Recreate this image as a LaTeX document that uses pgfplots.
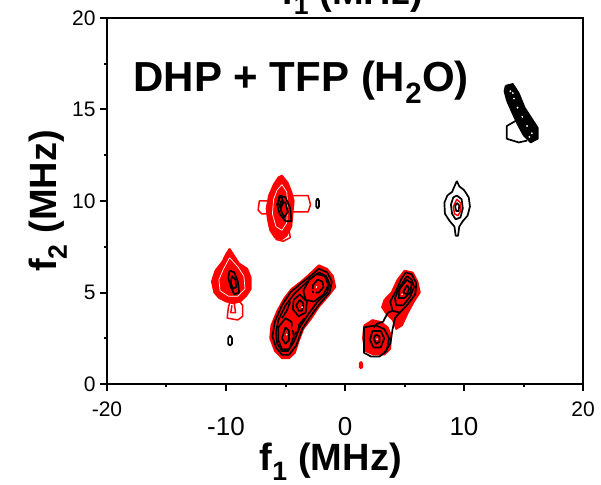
\documentclass[border=0pt]{standalone}
\usepackage{pgfplots}
\pgfplotsset{compat=1.18}
\usepackage{fontspec}
\setmainfont{Liberation Sans}

% contour styles
\tikzset{
  redfill/.style={draw=red, fill=red, line width=1.5bp, line join=round},
  redline/.style={draw=red, line width=1.5bp, line join=round},
  blkline/.style={draw=black, line width=1.7bp, line join=round},
  blkfill/.style={draw=black, fill=black, line width=1.6bp, line join=round},
  gap/.style={draw=white, line width=0.7bp, line join=round},
}
% inner x tick labels: larger and set lower than the end labels
\newcommand{\low}[1]{\raisebox{-16bp}[\height][\depth]{\fontsize{26bp}{30bp}\selectfont #1}}

\begin{document}
\begin{tikzpicture}
\begin{axis}[
  scale only axis,
  width=476bp, height=366bp,
  xmin=-20, xmax=20, ymin=0, ymax=20,
  axis line style={line width=2.4bp},
  clip=false,
  xtick={-20,-10,0,10,20},
  xticklabels={-20,\low{-10},\low{0},\low{10},20},
  ytick={0,5,10,15,20},
  yticklabels={0,5,10,15,20},
  minor x tick num=1, minor y tick num=1,
  tick pos=left,
  tick align=outside,
  major tick length=7bp, minor tick length=3bp,
  every tick/.style={line width=2bp, black},
  tick label style={font=\fontsize{21bp}{24bp}\selectfont},
  xticklabel style={yshift=-7bp},
  yticklabel style={xshift=-1bp},
]

% ---- red contours ----
% peak near (-5.5, 9.8)
\addplot[redfill] coordinates {(-5.3,11.4) (-4.8,11.0) (-4.5,10.5) (-4.3,10.0) (-4.4,9.3) (-4.5,8.6) (-4.9,8.1) (-5.3,7.9) (-5.9,8.0) (-6.3,8.4) (-6.5,9.0) (-6.6,9.6) (-6.4,10.3) (-6.0,10.9) (-5.6,11.3) (-5.3,11.4)};
\addplot[gap] coordinates {(-5.3,10.9) (-4.9,10.5) (-4.8,9.8) (-4.9,8.8) (-5.3,8.4) (-5.8,8.6) (-6.1,9.3) (-6.0,10.1) (-5.7,10.6) (-5.3,10.9)};
\addplot[redline] coordinates {(-4.5,10.3) (-3.1,10.3) (-2.9,9.8) (-3.1,9.4) (-4.4,9.4)};
\addplot[redline] coordinates {(-6.4,10.0) (-7.2,10.0) (-7.3,9.5) (-7.0,9.3) (-6.4,9.3)};
\addplot[redline] coordinates {(-5.6,8.3) (-5.8,7.9) (-5.2,7.8) (-4.6,8.0) (-4.7,8.4)};

% peak near (-9.5, 5.7)
\addplot[redfill] coordinates {(-9.7,7.4) (-9.3,7.0) (-8.9,6.6) (-8.2,6.3) (-7.9,5.8) (-7.9,5.2) (-8.3,4.8) (-8.8,4.5) (-9.4,4.4) (-10.0,4.5) (-10.6,4.7) (-11.0,5.0) (-11.2,5.6) (-10.9,6.2) (-10.3,6.7) (-10.0,7.1) (-9.7,7.4)};
\addplot[gap] coordinates {(-9.7,6.9) (-9.0,6.4) (-8.5,5.9) (-8.4,5.2) (-9.0,4.8) (-9.8,4.8) (-10.5,5.1) (-10.6,5.7) (-10.2,6.3) (-9.7,6.9)};
\addplot[redline] coordinates {(-9.0,4.6) (-8.6,4.3) (-8.6,3.7) (-9.0,3.5) (-9.9,3.6) (-9.8,4.2) (-9.6,4.6)};
\addplot[redline] coordinates {(-9.3,4.4) (-9.2,3.9) (-9.6,3.9) (-9.5,4.3)};

% ridge from (-5.2, 1.5) to (-2, 6.3)
\addplot[redfill] coordinates {(-2.2,6.5) (-1.5,6.3) (-1.0,5.9) (-0.8,5.3) (-1.4,4.8) (-2.2,4.2) (-2.8,3.6) (-3.5,3.0) (-3.9,2.3) (-4.2,1.7) (-4.7,1.4) (-5.3,1.4) (-5.9,1.8) (-6.3,2.5) (-6.2,3.2) (-5.7,4.0) (-5.1,4.7) (-4.5,5.2) (-3.7,5.6) (-3.0,6.0) (-2.2,6.5)};

% ridge from (2.7, 2.5) to (5, 5.5)
\addplot[redfill] coordinates {(5.0,6.2) (5.7,6.1) (6.1,5.6) (6.3,5.0) (5.8,4.5) (5.3,3.9) (4.8,3.2) (4.3,3.0) (4.0,3.5) (3.5,3.8) (3.1,4.2) (3.3,4.6) (3.9,5.0) (4.4,5.7) (5.0,6.2)};
\addplot[redfill] coordinates {(1.6,3.2) (2.3,3.5) (3.0,3.4) (3.6,3.1) (3.9,2.6) (3.8,1.9) (3.3,1.6) (2.4,1.6) (1.7,1.8) (1.5,2.5) (1.6,3.2)};
\addplot[redfill] coordinates {(1.34,1.22) (1.46,1.12) (1.46,0.92) (1.34,0.85) (1.22,0.92) (1.22,1.12) (1.34,1.22)};

% ---- black contours ----
% peak near (-5.2, 9.6)
\addplot[blkline] coordinates {(-5.5,10.3) (-5.0,10.2) (-4.6,9.6) (-4.5,8.9) (-5.0,8.9) (-5.5,9.3) (-5.7,9.8) (-5.5,10.3)};
\addplot[blkline] coordinates {(-5.4,10.0) (-5.0,9.9) (-4.8,9.4) (-5.1,9.1) (-5.4,9.5) (-5.4,10.0)};
\addplot[blkline] coordinates {(-5.5,10.2) (-5.3,10.2) (-5.2,9.9) (-5.4,9.6) (-5.6,9.9) (-5.5,10.2)};
\addplot[blkline] coordinates {(-2.3,10.15) (-2.18,10.0) (-2.18,9.7) (-2.3,9.6) (-2.42,9.7) (-2.42,10.0) (-2.3,10.15)};

% peak near (-9.4, 5.6)
\addplot[blkline] coordinates {(-9.7,6.2) (-9.3,6.1) (-9.0,5.6) (-8.9,5.0) (-9.3,4.9) (-9.6,5.3) (-9.8,5.8) (-9.7,6.2)};
\addplot[blkline] coordinates {(-9.5,5.9) (-9.2,5.7) (-9.15,5.3) (-9.4,5.2) (-9.6,5.5) (-9.5,5.9)};
\addplot[blkline] coordinates {(-9.66,2.65) (-9.5,2.5) (-9.5,2.2) (-9.66,2.1) (-9.82,2.2) (-9.82,2.5) (-9.66,2.65)};

% ridge near (-3.5, 4)
\addplot[blkline] coordinates {(-2.2,6.3) (-1.5,6.1) (-1.1,5.6) (-1.3,5.0) (-2.1,4.4) (-2.9,3.7) (-3.6,3.0) (-4.1,2.1) (-4.7,1.6) (-5.3,1.6) (-5.8,2.0) (-6.1,2.6) (-5.9,3.4) (-5.3,4.3) (-4.6,5.0) (-3.7,5.5) (-2.9,5.9) (-2.2,6.3)};
\addplot[blkline] coordinates {(-2.2,6.1) (-1.6,5.9) (-1.3,5.5) (-1.5,5.0) (-2.3,4.5) (-3.1,3.8) (-3.8,3.1) (-4.3,2.3) (-4.8,1.8) (-5.3,1.8) (-5.7,2.2) (-5.8,2.8) (-5.6,3.5) (-5.0,4.3) (-4.3,4.9) (-3.5,5.4) (-2.8,5.8) (-2.2,6.1)};
\addplot[blkline] coordinates {(-2.4,6.0) (-1.7,5.9) (-1.4,5.4) (-1.8,4.9) (-2.6,4.5) (-3.3,4.6) (-3.5,5.1) (-3.0,5.7) (-2.4,6.0)};
\addplot[blkline] coordinates {(-2.3,5.7) (-1.9,5.6) (-1.8,5.3) (-2.2,5.0) (-2.7,5.0) (-2.7,5.4) (-2.3,5.7)};
\addplot[blkline] coordinates {(-3.8,4.9) (-3.2,4.5) (-3.3,3.9) (-3.9,3.7) (-4.4,4.1) (-4.3,4.6) (-3.8,4.9)};
\addplot[blkline] coordinates {(-3.8,4.6) (-3.5,4.4) (-3.6,4.0) (-3.9,4.0) (-4.1,4.3) (-3.8,4.6)};
\addplot[blkline] coordinates {(-5.0,3.6) (-4.5,3.4) (-4.3,2.6) (-4.7,1.9) (-5.3,1.9) (-5.6,2.4) (-5.6,3.1) (-5.0,3.6)};
\addplot[blkline] coordinates {(-5.0,3.1) (-4.7,2.9) (-4.7,2.4) (-5.0,2.2) (-5.3,2.5) (-5.0,3.1)};
\addplot[blkline] coordinates {(-4.6,4.5) (-4.9,4.0) (-5.3,3.6)};
\addplot[blkline] coordinates {(-3.4,3.6) (-3.9,3.2) (-4.2,2.7)};
\addplot[redline] coordinates {(-3.0,5.2) (-2.5,5.1) (-2.6,4.8) (-3.1,4.8) (-3.0,5.2)};
\addplot[redline] coordinates {(-4.3,3.3) (-4.0,3.2) (-4.1,2.9) (-4.4,3.0) (-4.3,3.3)};

% ridge near (4, 4)
\addplot[blkline] coordinates {(5.1,6.1) (5.6,6.0) (6.0,5.5) (5.9,4.9) (5.2,4.3) (4.6,3.9) (4.0,4.0) (3.8,4.5) (4.3,5.1) (4.7,5.7) (5.1,6.1)};
\addplot[blkline] coordinates {(5.2,5.9) (5.6,5.7) (5.8,5.3) (5.5,4.8) (4.9,4.3) (4.3,4.3) (4.2,4.7) (4.6,5.3) (5.2,5.9)};
\addplot[blkline] coordinates {(5.2,5.7) (5.6,5.5) (5.5,5.0) (5.0,4.7) (4.5,4.7) (4.6,5.2) (5.2,5.7)};
\addplot[blkline] coordinates {(5.2,5.4) (5.4,5.2) (5.2,4.9) (4.9,5.0) (5.2,5.4)};
\addplot[blkline] coordinates {(1.6,3.1) (2.6,3.2) (3.3,3.0) (3.7,2.5) (3.5,1.8) (2.9,1.5) (2.2,1.5) (1.6,1.7) (1.6,3.1)};
\addplot[blkline] coordinates {(2.3,2.9) (3.0,2.9) (3.3,2.5) (3.0,2.0) (2.4,2.0) (2.1,2.4) (2.3,2.9)};
\addplot[blkline] coordinates {(2.6,2.7) (2.9,2.6) (2.9,2.3) (2.6,2.2) (2.4,2.5) (2.6,2.7)};
\addplot[blkline] coordinates {(2.4,3.1) (2.7,3.3) (3.2,3.4) (3.6,3.9) (4.0,4.0)};
\addplot[blkline] coordinates {(3.3,1.7) (3.8,2.2) (4.0,3.0) (4.2,3.6) (4.6,3.9)};

% peak near (9.4, 9.6)
\addplot[blkline] coordinates {(9.4,11.1) (9.6,10.8) (10.0,10.6) (10.4,10.2) (10.5,9.7) (10.3,9.2) (9.9,8.9) (9.6,8.6) (9.5,8.1) (9.3,8.1) (9.2,8.6) (8.8,8.9) (8.4,9.3) (8.35,9.9) (8.6,10.3) (9.0,10.5) (9.2,10.8) (9.4,11.1)};
\addplot[blkline] coordinates {(9.4,10.3) (9.8,10.1) (9.9,9.6) (9.7,9.1) (9.3,9.0) (9.0,9.3) (8.9,9.8) (9.1,10.2) (9.4,10.3)};
\addplot[redline] coordinates {(9.4,10.1) (9.7,9.9) (9.75,9.5) (9.5,9.2) (9.2,9.3) (9.1,9.7) (9.4,10.1)};
\addplot[blkline] coordinates {(9.4,9.9) (9.6,9.75) (9.55,9.45) (9.35,9.45) (9.25,9.7) (9.4,9.9)};

% ridge near (15, 14.8)
\addplot[blkfill] coordinates {(13.5,16.3) (14.1,16.4) (14.6,15.9) (15.1,15.1) (15.7,14.5) (16.2,14.0) (16.2,13.4) (15.6,13.2) (15.0,13.6) (14.5,14.2) (14.0,14.9) (13.6,15.5) (13.4,16.0) (13.5,16.3)};
\addplot[blkline] coordinates {(14.4,14.4) (13.6,14.1) (13.6,13.4) (14.6,13.2) (15.3,13.3)};
\addplot[only marks, mark=*, mark size=0.7bp, white] coordinates {(13.9,16.0) (14.2,15.6) (14.5,15.1) (14.9,14.6) (15.3,14.1) (15.7,13.7) (14.1,15.9) (15.5,13.5)};
\addplot[only marks, mark=*, mark size=0.6bp, white] coordinates {(-2.4,5.3) (-3.6,4.2) (-4.9,2.7) (4.8,4.9) (2.7,2.45)};

% labels
\node[anchor=base west, font=\fontsize{42bp}{48bp}\selectfont\bfseries] at (axis cs:-18.07,15.96) {DHP + TFP (H\textsubscript{2}O)};
\node[anchor=center, font=\fontsize{38bp}{44bp}\selectfont\bfseries] at (axis description cs:0.47,-0.213) {f\textsubscript{1} (MHz)};
\node[anchor=base, font=\fontsize{38bp}{44bp}\selectfont\bfseries] at (axis description cs:0.515,1.036) {f\textsubscript{1} (MHz)};
\node[anchor=center, rotate=90, font=\fontsize{38bp}{44bp}\selectfont\bfseries] at (axis description cs:-0.124,0.5) {f\textsubscript{2} (MHz)};
\end{axis}
\pgfresetboundingbox
\useasboundingbox (-107bp,-101bp) rectangle (494bp,384bp);
\end{tikzpicture}
\end{document}
